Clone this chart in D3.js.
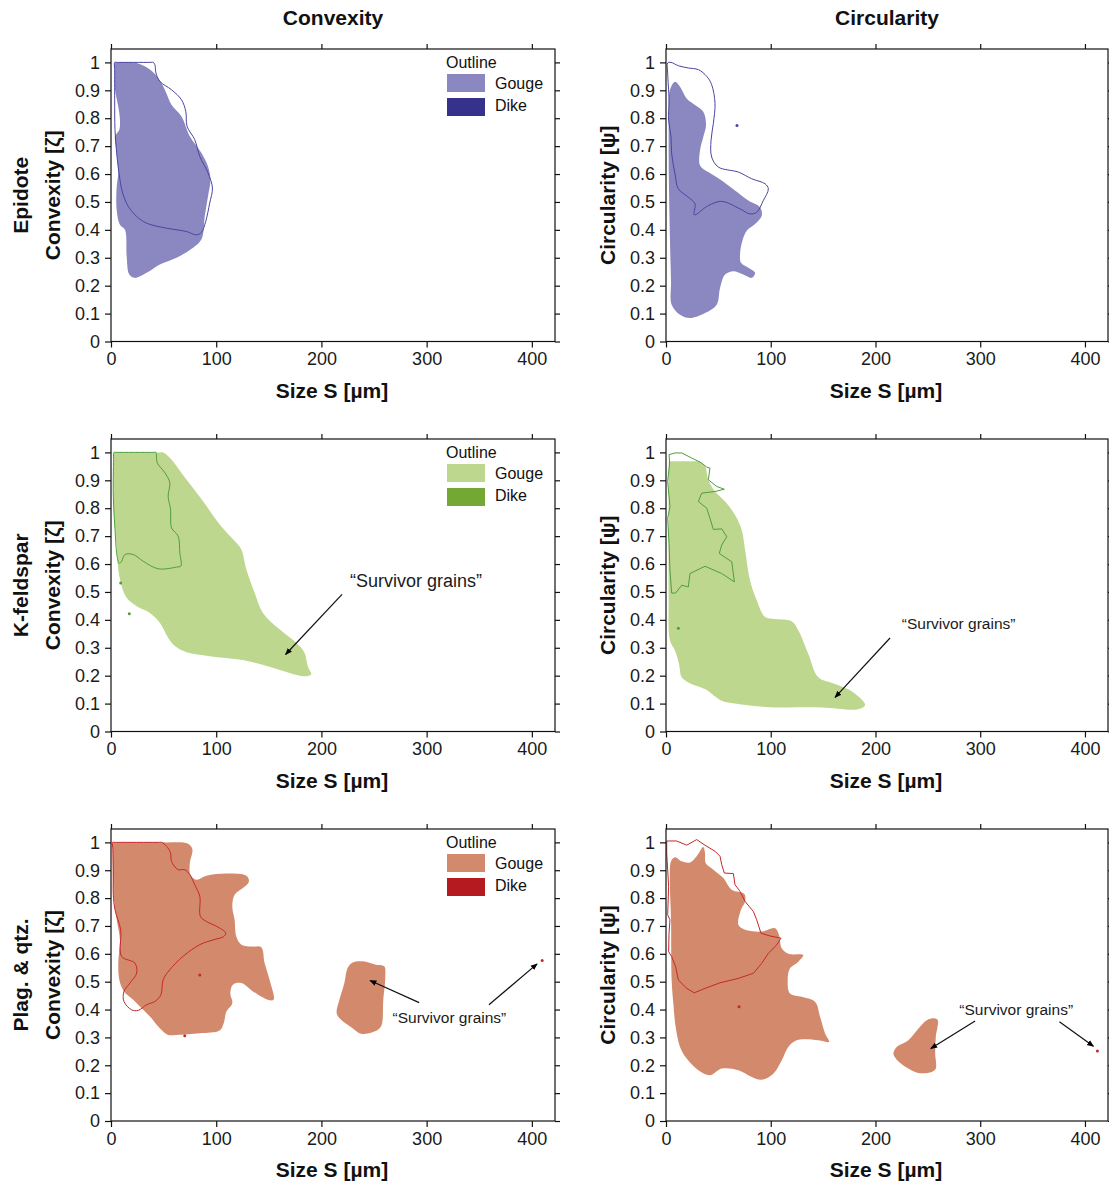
<!DOCTYPE html>
<html>
<head>
<meta charset="utf-8">
<script src="https://cdn.jsdelivr.net/npm/d3@7/dist/d3.min.js"></script>
<style>
  html, body { margin: 0; padding: 0; background: #fff; }
  svg { display: block; font-family: "Liberation Sans", Arial, Helvetica, sans-serif; }
</style>
</head>
<body>
<svg id="chart" width="1109" height="1184"></svg>
<script>
// ---- Data: outlines of grain populations in (size S [µm], shape factor) space ----

const columnTitles = ["Convexity", "Circularity"];
const rowMinerals = ["Epidote", "K-feldspar", "Plag. & qtz."];
const yAxisNames = ["Convexity [ζ]", "Circularity [ψ]"];
const xAxisName = "Size S [µm]";
const xTicks = [0, 100, 200, 300, 400];
const yTicks = [0, 0.1, 0.2, 0.3, 0.4, 0.5, 0.6, 0.7, 0.8, 0.9, 1];
const legendTitle = "Outline";
const legendItems = ["Gouge", "Dike"];
const annotationText = "\u201CSurvivor grains\u201D";

// Epidote – convexity
const epConvGouge = [[3.8,1.0],[6,1.0],[24.3,0.998],[37,0.975],[44.9,0.944],[51.2,0.902],[57.5,0.848],[67,0.806],[74.9,0.735],[86,0.675],[92.2,0.627],[94.5,0.58],[92.2,0.52],[89.1,0.449],[86,0.366],[78,0.336],[62.3,0.30],[46.4,0.276],[33.8,0.246],[22.7,0.228],[17.4,0.24],[14.9,0.305],[13.3,0.40],[8.5,0.418],[5.4,0.471],[5.4,0.554],[6.9,0.603],[6,0.651],[4.7,0.698],[3.8,0.735],[7.9,0.759],[8.5,0.795],[6.9,0.842],[3.8,0.902],[3.6,0.975]];
const epConvDike = [[3.5,1.0],[6,1.0],[37,1.0],[40.1,1.0],[41.7,0.992],[42.7,0.962],[46.4,0.932],[57.5,0.902],[67,0.866],[71.1,0.824],[72.3,0.771],[79.6,0.723],[84.4,0.663],[92.2,0.604],[96.4,0.55],[93.8,0.496],[90,0.43],[86,0.391],[81.2,0.382],[71.8,0.394],[52.8,0.406],[33.8,0.424],[24.4,0.448],[16.4,0.484],[11.1,0.532],[8.5,0.58],[5.4,0.675],[3.8,0.759],[3.5,0.866],[3.5,0.975]];
const epConvDots = [];

// Epidote – circularity
const epCircGouge = [[8.6,0.931],[13.4,0.913],[19.7,0.871],[27.7,0.847],[35.6,0.823],[38.2,0.775],[35.6,0.733],[32.5,0.685],[32.5,0.631],[40.4,0.607],[53.2,0.577],[65.9,0.541],[78.6,0.505],[89.8,0.481],[91.4,0.451],[85,0.421],[77.1,0.397],[72.9,0.361],[70.7,0.313],[71.6,0.282],[78.6,0.264],[85,0.246],[81.9,0.228],[73.8,0.24],[64.3,0.252],[56.4,0.24],[51.6,0.192],[48.4,0.132],[37.2,0.102],[22.9,0.084],[13.4,0.096],[5.4,0.132],[4.8,0.216],[3.8,0.361],[2.9,0.541],[2.5,0.697],[2.5,0.781],[2.5,0.841],[3.8,0.902]];
const epCircDike = [[1.6,0.998],[4.8,1.0],[11.8,0.988],[21.3,0.98],[30.9,0.974],[38.9,0.95],[43.6,0.92],[46.8,0.853],[45.2,0.781],[43,0.721],[43.6,0.661],[50,0.625],[69.1,0.607],[81.9,0.583],[94.6,0.565],[97.7,0.547],[92.9,0.505],[86.6,0.463],[80.2,0.457],[70.7,0.475],[53.2,0.502],[40.4,0.487],[27,0.454],[27.7,0.493],[21.3,0.517],[11.8,0.547],[8.6,0.601],[5.4,0.673],[4.8,0.733],[2.5,0.793],[2.9,0.865],[1.6,0.962]];
const epCircDots = [[67.8,0.774]];

// K-feldspar – convexity
const kfConvGouge = [[2.8,1.0],[5,1.0],[46,1.0],[49.6,1.0],[55.9,0.981],[71.7,0.903],[87.5,0.825],[103.3,0.742],[119.1,0.676],[123.9,0.652],[128.6,0.581],[136.5,0.497],[144.4,0.425],[160.2,0.366],[176,0.318],[183.9,0.282],[187,0.234],[190.2,0.204],[182.3,0.198],[153.8,0.228],[125.4,0.256],[93.8,0.27],[71.7,0.284],[60.7,0.306],[54.3,0.336],[46.4,0.39],[37,0.425],[24.4,0.449],[14.9,0.479],[10.1,0.521],[6.9,0.581],[5.4,0.664],[2.8,0.784],[2.2,0.903],[2.5,0.975]];
const kfConvDike = [[2.8,1.0],[5,1.0],[40,1.0],[42.7,1.0],[43.2,0.99],[43.9,0.963],[51.2,0.927],[55.9,0.891],[54.3,0.843],[56.6,0.796],[57.5,0.73],[63.8,0.70],[65.4,0.64],[66.4,0.593],[62.3,0.589],[44.9,0.583],[30.6,0.61],[21.2,0.634],[13.3,0.634],[10.1,0.61],[7.9,0.602],[6,0.623],[3.8,0.724],[2.2,0.843],[2.5,0.975]];
const kfConvDots = [[9.2,0.532],[17.4,0.422]];

// K-feldspar – circularity
const kfCircGouge = [[2.9,0.968],[5,0.968],[28,0.968],[30.9,0.968],[37.2,0.95],[40.4,0.902],[46.8,0.86],[56.4,0.824],[65.9,0.776],[72.3,0.722],[75.5,0.65],[80.2,0.542],[86.6,0.47],[94.6,0.41],[104.1,0.403],[120,0.395],[126.4,0.362],[135.9,0.278],[145.5,0.194],[161.4,0.17],[178.9,0.14],[190.1,0.095],[183.7,0.08],[148.7,0.086],[94.6,0.088],[65.9,0.1],[53.2,0.11],[37.2,0.152],[21.3,0.176],[15,0.194],[12.4,0.242],[8.6,0.29],[3.8,0.326],[2.5,0.482],[2.5,0.722],[2.5,0.902],[2.7,0.95]];
const kfCircDike = [[2.9,0.992],[8.6,0.998],[15,0.998],[24.5,0.98],[34.1,0.962],[38.9,0.947],[42,0.944],[40.4,0.902],[48.4,0.878],[55.7,0.868],[46.8,0.86],[34.1,0.854],[30.9,0.824],[38.9,0.80],[42,0.764],[45.2,0.724],[53.2,0.726],[58,0.698],[53.2,0.668],[50.9,0.638],[62.8,0.608],[65.3,0.536],[53.2,0.566],[37.2,0.592],[22.9,0.566],[21.3,0.518],[15,0.524],[9.2,0.496],[5.4,0.496],[3.8,0.578],[2.9,0.674],[1.6,0.764],[3.8,0.806],[1.6,0.896],[3.5,0.962]];
const kfCircDots = [[11.8,0.37]];

// Plagioclase & quartz – convexity
const pqConvGouge = [[1.6,1.0],[4,1.0],[49.6,1.0],[73.3,0.995],[77.4,0.974],[74.9,0.926],[75.5,0.884],[81.2,0.866],[90.7,0.88],[109.7,0.888],[128.6,0.88],[131.1,0.86],[125.4,0.836],[117.5,0.812],[115.3,0.77],[117.5,0.722],[119.1,0.662],[123.9,0.633],[134.9,0.626],[142.8,0.624],[146,0.567],[150.7,0.507],[154.5,0.435],[149.1,0.435],[134.9,0.465],[123.9,0.495],[115.9,0.489],[113.4,0.459],[115.3,0.423],[109.7,0.393],[107.1,0.351],[103.3,0.325],[84.4,0.315],[62.3,0.309],[54.3,0.309],[46.4,0.333],[37,0.375],[29.1,0.405],[21.1,0.435],[12.3,0.465],[7.9,0.507],[6.9,0.567],[8.5,0.65],[5.4,0.722],[2.9,0.794],[1.6,0.902],[1.6,0.975]];
const pqConvGouge2 = [[229.7,0.569],[239.2,0.573],[251.8,0.561],[259.7,0.555],[260.7,0.519],[258.8,0.435],[256.6,0.339],[250.2,0.321],[237.6,0.313],[229.7,0.333],[218.7,0.363],[214.5,0.387],[217.1,0.435],[221.8,0.495],[224.9,0.549]];
const pqConvDike = [[1.6,1.0],[4,1.0],[45,1.0],[48,1.0],[52.8,0.986],[56.6,0.962],[57.5,0.932],[63.8,0.902],[70.1,0.902],[74.9,0.884],[79.6,0.848],[84.4,0.806],[85,0.734],[90.7,0.716],[101.7,0.696],[109,0.675],[107.1,0.662],[97,0.65],[84.4,0.633],[68.5,0.591],[55.9,0.543],[49.6,0.507],[47.4,0.453],[41.7,0.429],[33.8,0.417],[25.9,0.397],[19.6,0.399],[12.3,0.429],[12.3,0.465],[18,0.495],[24.4,0.531],[22.7,0.567],[10.1,0.591],[9.2,0.686],[3.8,0.758],[2.2,0.812],[2.2,0.902],[1.8,0.975]];
const pqConvDots = [[84.4,0.524],[70.1,0.306],[409.8,0.576]];

// Plagioclase & quartz – circularity
const pqCircGouge = [[4.8,0.932],[8.6,0.947],[15,0.932],[22.9,0.928],[29.3,0.95],[35.6,0.983],[37.2,0.962],[37.9,0.926],[45.2,0.902],[54.7,0.872],[62.7,0.83],[74.8,0.815],[75.5,0.788],[71.6,0.758],[69.1,0.704],[75.5,0.686],[91.4,0.68],[104.1,0.692],[107.9,0.668],[110.5,0.62],[116.8,0.60],[131.1,0.596],[126.4,0.572],[118.4,0.548],[116.2,0.506],[118.4,0.458],[129.6,0.446],[142.3,0.428],[147.1,0.374],[151.9,0.314],[155.7,0.284],[145.5,0.29],[124.8,0.29],[116.8,0.266],[110.5,0.218],[102.5,0.17],[91.4,0.148],[81.9,0.158],[69.1,0.182],[53.2,0.188],[42,0.164],[30.9,0.182],[19.8,0.224],[13.4,0.266],[9.2,0.338],[7,0.422],[5.4,0.506],[4.8,0.722],[3.8,0.842]];
const pqCircGouge2 = [[256.9,0.368],[259.5,0.362],[257.6,0.302],[257,0.242],[257.6,0.188],[253.8,0.176],[241,0.172],[231.4,0.188],[220.3,0.22],[217.1,0.242],[220.3,0.266],[231.4,0.29],[241,0.332],[249,0.362]];
const pqCircDike = [[0.7,1.005],[10.2,1.005],[19.8,0.99],[29.3,1.01],[37.2,0.99],[46.8,0.968],[51.6,0.95],[53.2,0.92],[55.7,0.89],[64.3,0.888],[65.9,0.848],[70.7,0.824],[75.5,0.788],[83.4,0.752],[86.6,0.722],[90.7,0.674],[99.3,0.664],[109.8,0.656],[105.7,0.632],[97.7,0.602],[91.4,0.566],[83.4,0.53],[69.1,0.512],[51.6,0.496],[37.2,0.476],[27,0.46],[19.8,0.476],[11.8,0.506],[9.2,0.554],[5.4,0.59],[2.5,0.608],[2.9,0.674],[3.8,0.722],[1.6,0.74],[2.5,0.842],[0.7,0.962]];
const pqCircDots = [[69.7,0.41],[411.9,0.251]];

// Annotation positions: [textX, textY, fontSize, [[fromX, fromY, toX, toY], ...]]
const kfConvNote = [227.2, 0.516, 18, [[219.6,0.491,165.9,0.276]]];
const kfCircNote = [225.1, 0.369, 15.5, [[213.9,0.335,161.4,0.122]]];
const pqConvNote = [267.6, 0.352, 15.5, [[292.9,0.425,246.2,0.504],[359.2,0.417,405,0.564]]];
const pqCircNote = [280.1, 0.38, 15.5, [[295.1,0.359,252.8,0.26],[375.6,0.356,408.1,0.268]]];

// Colours per mineral: gouge fill, dike swatch, dike outline stroke
const palettes = [
  { gouge: "#8b88c1", dike: "#36318a", line: "#4a45a0" },
  { gouge: "#bed78e", dike: "#72a833", line: "#4f9e3c" },
  { gouge: "#d38a6c", dike: "#b41a1f", line: "#c8262b" }
];

const panels = [
  { row: 0, col: 0, gouge: [epConvGouge], dike: epConvDike, dots: epConvDots, note: null, legend: true, dikeCurve: "smooth" },
  { row: 0, col: 1, gouge: [epCircGouge], dike: epCircDike, dots: epCircDots, note: null, legend: false, dikeCurve: "smooth" },
  { row: 1, col: 0, gouge: [kfConvGouge], dike: kfConvDike, dots: kfConvDots, note: kfConvNote, legend: true, dikeCurve: "smooth" },
  { row: 1, col: 1, gouge: [kfCircGouge], dike: kfCircDike, dots: kfCircDots, note: kfCircNote, legend: false, dikeCurve: "linear" },
  { row: 2, col: 0, gouge: [pqConvGouge, pqConvGouge2], dike: pqConvDike, dots: pqConvDots, note: pqConvNote, legend: true, dikeCurve: "smooth" },
  { row: 2, col: 1, gouge: [pqCircGouge, pqCircGouge2], dike: pqCircDike, dots: pqCircDots, note: pqCircNote, legend: false, dikeCurve: "linear" }
];

// ---- Layout ----
const colRanges = [[111, 555], [666, 1108]];
const rowRanges = [[341.5, 49], [731.5, 439], [1121, 829]];
const xDomain = [0, 422];
const yDomain = [0, 1.048];

const svg = d3.select("#chart");

svg.append("defs").append("marker")
  .attr("id", "arrowhead")
  .attr("viewBox", "0 0 10 10")
  .attr("refX", 9).attr("refY", 5)
  .attr("markerWidth", 7).attr("markerHeight", 7)
  .attr("markerUnits", "userSpaceOnUse")
  .attr("orient", "auto")
  .append("path")
  .attr("d", "M0,1 L10,5 L0,9 Z")
  .attr("fill", "#000");

// Column headings
columnTitles.forEach((t, i) => {
  const cx = (colRanges[i][0] + colRanges[i][1]) / 2;
  svg.append("text")
    .attr("x", cx).attr("y", 25)
    .attr("text-anchor", "middle")
    .attr("font-size", 21).attr("font-weight", "bold").attr("fill", "#111")
    .text(t);
});

const yFmt = d => (d === 0 ? "0" : d === 1 ? "1" : d3.format(".1f")(d));

panels.forEach(p => {
  const x = d3.scaleLinear().domain(xDomain).range(colRanges[p.col]);
  const y = d3.scaleLinear().domain(yDomain).range(rowRanges[p.row]);
  const pal = palettes[p.row];
  const g = svg.append("g");
  const [xl, xr] = colRanges[p.col];
  const [yb, yt] = rowRanges[p.row];

  // Gouge envelopes (filled)
  const smooth = d3.line().x(d => x(d[0])).y(d => y(d[1])).curve(d3.curveCatmullRomClosed.alpha(0.5));
  const sharp = d3.line().x(d => x(d[0])).y(d => y(d[1])).curve(d3.curveLinearClosed);
  p.gouge.forEach(poly => {
    g.append("path").attr("d", smooth(poly)).attr("fill", pal.gouge).attr("stroke", "none");
  });

  // Dike envelope (outline only)
  g.append("path")
    .attr("d", (p.dikeCurve === "linear" ? sharp : smooth)(p.dike))
    .attr("fill", "none").attr("stroke", pal.line).attr("stroke-width", 1)
    .attr("stroke-linejoin", "round");

  // Isolated dike grains
  g.selectAll("circle.dot").data(p.dots).enter().append("circle")
    .attr("class", "dot")
    .attr("cx", d => x(d[0])).attr("cy", d => y(d[1])).attr("r", 1.5)
    .attr("fill", pal.line);

  // Frame and axes
  g.append("rect")
    .attr("x", xl).attr("y", yt).attr("width", xr - xl).attr("height", yb - yt)
    .attr("fill", "none").attr("stroke", "#111").attr("stroke-width", 1.2);

  const styleAxis = sel => {
    sel.select(".domain").remove();
    sel.selectAll(".tick line").attr("stroke", "#111").attr("stroke-width", 1.2);
    sel.selectAll(".tick text").attr("font-size", 18).attr("fill", "#1a1a1a")
      .attr("font-family", "'Liberation Sans', Arial, sans-serif");
  };

  g.append("g").attr("transform", `translate(${xl},0)`)
    .call(d3.axisLeft(y).tickValues(yTicks).tickFormat(yFmt).tickSize(6).tickPadding(5))
    .call(styleAxis);
  g.append("g").attr("transform", `translate(${xr},0)`)
    .call(d3.axisRight(y).tickValues(yTicks).tickFormat("").tickSize(5))
    .call(styleAxis);
  g.append("g").attr("transform", `translate(0,${yb})`)
    .call(d3.axisBottom(x).tickValues(xTicks).tickFormat(d3.format("d")).tickSize(6).tickPadding(5))
    .call(styleAxis);
  g.append("g").attr("transform", `translate(0,${yt})`)
    .call(d3.axisTop(x).tickValues(xTicks).tickFormat("").tickSize(5))
    .call(styleAxis);

  // Axis titles
  const midX = (xl + xr) / 2;
  const midY = (yb + yt) / 2;
  g.append("text")
    .attr("x", midX - 1).attr("y", yb + 56)
    .attr("text-anchor", "middle")
    .attr("font-size", 21).attr("font-weight", "bold").attr("fill", "#111")
    .text(xAxisName);
  g.append("text")
    .attr("transform", `translate(${xl - 51},${midY}) rotate(-90)`)
    .attr("text-anchor", "middle")
    .attr("font-size", 21).attr("font-weight", "bold").attr("fill", "#111")
    .text(yAxisNames[p.col]);
  if (p.col === 0) {
    g.append("text")
      .attr("transform", `translate(${xl - 83},${midY}) rotate(-90)`)
      .attr("text-anchor", "middle")
      .attr("font-size", 21).attr("font-weight", "bold").attr("fill", "#111")
      .text(rowMinerals[p.row]);
  }

  // Legend
  if (p.legend) {
    const lx = 446, ly = yt;
    g.append("text").attr("x", lx).attr("y", ly + 19)
      .attr("font-size", 16).attr("fill", "#111").text(legendTitle);
    [pal.gouge, pal.dike].forEach((c, i) => {
      g.append("rect")
        .attr("x", lx + 1).attr("y", ly + 25 + i * 24)
        .attr("width", 38).attr("height", 18)
        .attr("fill", c);
      g.append("text")
        .attr("x", lx + 49).attr("y", ly + 40 + i * 22)
        .attr("font-size", 16).attr("fill", "#111")
        .text(legendItems[i]);
    });
  }

  // Annotation with arrows
  if (p.note) {
    const [tx, ty, fs, arrows] = p.note;
    arrows.forEach(a => {
      g.append("line")
        .attr("x1", x(a[0])).attr("y1", y(a[1]))
        .attr("x2", x(a[2])).attr("y2", y(a[3]))
        .attr("stroke", "#111").attr("stroke-width", 1.2)
        .attr("marker-end", "url(#arrowhead)");
    });
    g.append("text")
      .attr("x", x(tx)).attr("y", y(ty))
      .attr("font-size", fs).attr("fill", "#1a1a1a")
      .text(annotationText);
  }
});
</script>
</body>
</html>
